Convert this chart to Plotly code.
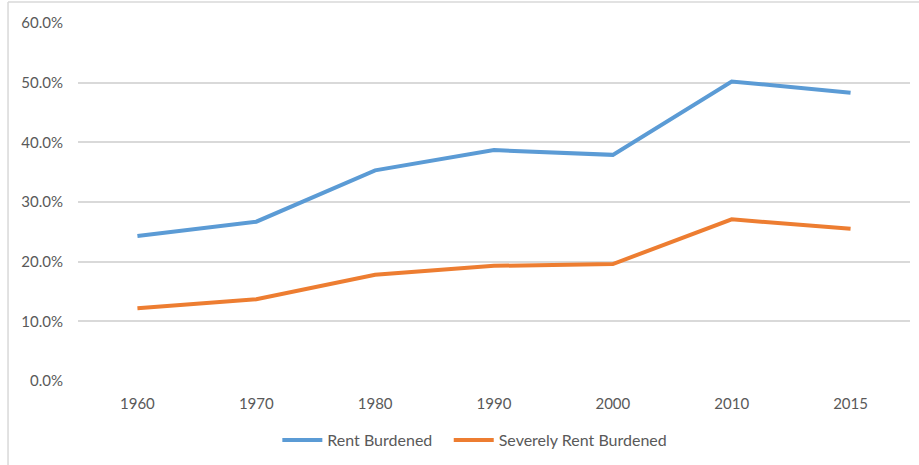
import plotly.graph_objects as go

years = ["1960", "1970", "1980", "1990", "2000", "2010", "2015"]
rent_burdened = [0.243, 0.267, 0.353, 0.387, 0.379, 0.502, 0.483]
severely_burdened = [0.122, 0.137, 0.178, 0.193, 0.196, 0.271, 0.255]
y_ticks = [0, 0.1, 0.2, 0.3, 0.4, 0.5, 0.6]

font = dict(family="Lato, Open Sans, sans-serif", size=15, color="#595959")
legend_font = dict(family="Lato, Open Sans, sans-serif", size=16, color="#595959")

fig = go.Figure()
fig.add_trace(go.Scatter(x=years, y=rent_burdened, mode="lines", name="Rent Burdened",
                         line=dict(color="#5B9BD5", width=4), legend="legend"))
fig.add_trace(go.Scatter(x=years, y=severely_burdened, mode="lines", name="Severely Rent Burdened",
                         line=dict(color="#ED7D31", width=4), legend="legend2"))

fig.update_layout(
    width=919, height=465,
    margin=dict(l=78, r=9, t=23, b=84, autoexpand=False),
    paper_bgcolor="white", plot_bgcolor="white",
    font=font,
    showlegend=True,
    legend=dict(orientation="h", x=0.2396, xanchor="left", y=-0.165, yanchor="middle",
                font=legend_font, itemwidth=40),
    legend2=dict(orientation="h", x=0.4456, xanchor="left", y=-0.165, yanchor="middle",
                 font=legend_font, itemwidth=40),
    xaxis=dict(type="category", range=[-0.5, 6.5], showgrid=False, zeroline=False, showline=False,
               ticks="", ticklabelstandoff=12, tickfont=font, automargin=False),
    yaxis=dict(range=[0, 0.6], tickvals=y_ticks, tickformat=".1%", showgrid=True,
               gridcolor="#D9D9D9", gridwidth=1.5, zeroline=False, showline=False,
               ticks="", ticklabelstandoff=14, tickfont=font, automargin=False),
    shapes=[
        dict(type="line", xref="paper", yref="paper", x0=-0.0841, x1=-0.0841, y0=-0.35, y1=1.0587,
             line=dict(color="#D9D9D9", width=1.5)),
        dict(type="line", xref="paper", yref="paper", x0=-0.0841, x1=1.03, y0=1.0587, y1=1.0587,
             line=dict(color="#D9D9D9", width=1.5)),
    ],
)

fig.write_html("out.html", config={"displayModeBar": False},
               post_script="document.body.style.margin='0';")
